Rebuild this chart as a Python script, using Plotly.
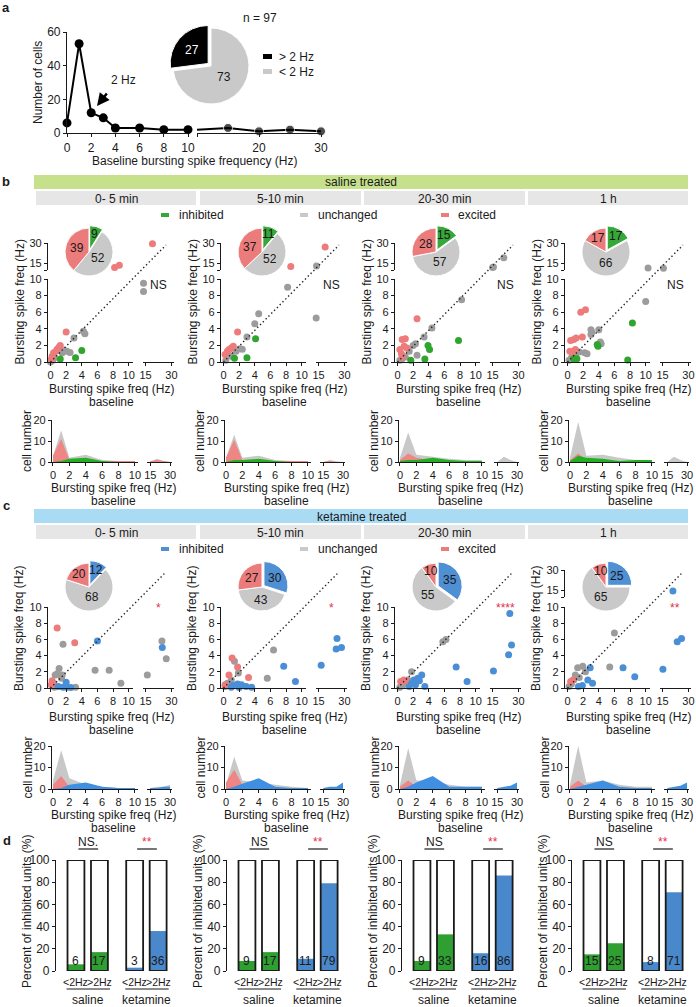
import math
import plotly.graph_objects as go

W, H = 696, 1007
FONT = "Arial, 'Liberation Sans', Helvetica, sans-serif"
INK = "#1a1a1a"

# ======================= DATA =======================
# panel a
a_freq_low = [0, 1, 2, 3, 4, 6, 8, 10]
a_cells_low = [6, 53, 12, 9, 3, 3, 2, 2]
a_freq_high = [10, 15, 20, 25, 30]
a_cells_high = [2, 3, 1, 2, 1]
a_pie_labels = ["&gt; 2 Hz", "&lt; 2 Hz"]
a_pie_values = [73, 27]          # (< 2 Hz, > 2 Hz)
a_n_text = "n = 97"

time_labels = ["0- 5 min", "5-10 min", "20-30 min", "1 h"]
response_labels = ["inhibited", "unchanged", "excited"]

# pies (% inhibited, unchanged, excited)
sal_pie_inh = [9, 11, 15, 17]
sal_pie_unc = [52, 52, 57, 66]
sal_pie_exc = [39, 37, 28, 17]
ket_pie_inh = [12, 30, 35, 25]
ket_pie_unc = [68, 43, 55, 65]
ket_pie_exc = [20, 27, 10, 10]

sal_stat = ["NS", "NS", "NS", "NS"]
ket_stat = ["*", "*", "****", "**"]

# scatter: baseline (x) vs post (y), Hz
sal_inh_x = [[4.0, 3.2, 1.25], [4.1, 3.0, 1.4], [7.8, 3.9, 4.1, 3.5, 1.7],
             [8.3, 3.8, 3.9, 1.2, 0.8, 7.7]]
sal_inh_y = [[1.4, 0.5, 0.35], [2.8, 0.5, 0.45], [2.6, 2.0, 1.5, 0.35, 0.2],
             [4.7, 2.1, 1.9, 0.4, 0.4, 0.25]]
sal_unc_x = [[13.8, 13.8, 3.0, 4.2, 4.4, 2.1, 2.5, 1.5, 0.5, 0.3, 0.0, 1.8],
             [13.8, 8.2, 4.5, 4.0, 3.0, 13.6, 2.1, 2.4, 1.0, 0.3, 1.6],
             [15.0, 15.5, 21.5, 8.2, 4.4, 3.4, 2.5, 2.3, 2.0, 1.0, 0.3, 1.5, 0.6],
             [10.3, 15.5, 10.0, 3.0, 3.1, 3.0, 4.0, 4.2, 4.3, 2.2, 2.5, 1.5, 0.5, 0.2, 1.0]]
sal_unc_y = [[9.5, 8.5, 2.9, 3.7, 3.4, 1.3, 1.15, 1.1, 0.5, 0.2, 0.0, 1.4],
             [13.0, 9.0, 5.8, 4.6, 3.0, 5.3, 1.6, 1.55, 0.7, 0.2, 1.3],
             [11.8, 12.3, 19.0, 7.5, 4.1, 3.0, 0.8, 2.2, 2.0, 0.6, 0.2, 1.3, 0.4],
             [11.5, 11.3, 7.3, 3.9, 3.6, 3.3, 3.9, 2.4, 2.2, 1.1, 1.0, 1.2, 0.5, 0.2, 0.8]]
sal_exc_x = [[19.0, 8.2, 8.8, 2.0, 1.25, 1.1, 0.7, 0.4, 0.2, 0.85, 0.1],
             [18.8, 8.6, 1.8, 1.25, 1.0, 0.5, 0.2, 0.7],
             [2.5, 1.0, 0.6, 0.85, 0.3, 0.5, 0.6, 1.2],
             [1.7, 2.3, 1.1, 0.8, 0.4, 1.0, 0.3, 0.6, 1.9]]
sal_exc_y = [[29.5, 11.8, 13.5, 3.6, 2.0, 1.8, 1.3, 1.1, 0.7, 1.55, 0.3],
             [27.0, 12.5, 3.6, 1.9, 1.7, 1.3, 0.9, 1.5],
             [5.2, 2.8, 2.7, 1.9, 1.5, 1.0, 0.6, 1.7],
             [6.0, 6.3, 2.9, 2.7, 2.6, 1.5, 1.3, 1.1, 3.0]]

ket_inh_x = [[6.0, 24.7, 2.0, 2.1, 1.6, 2.6, 1.0],
             [7.7, 9.2, 16.5, 25.7, 25.2, 28.3, 1.2, 1.8, 2.3, 2.9, 1.0, 2.0, 3.6],
             [7.5, 8.9, 15.5, 24.3, 26.0, 25.0, 2.1, 2.6, 2.8, 3.1, 2.3, 1.5, 3.5, 1.8],
             [21.0, 23.5, 26.0, 15.2, 8.6, 7.1, 2.9, 2.6, 3.2, 1.9, 1.4]]
ket_inh_y = [[5.8, 5.0, 0.7, 0.1, 0.1, 0.05, 0.2],
             [2.7, 0.8, 2.8, 6.1, 4.8, 5.0, 0.3, 0.5, 0.4, 0.2, 0.1, 0.05, 0.1],
             [2.6, 0.8, 2.1, 4.1, 5.3, 9.2, 1.0, 1.2, 0.9, 1.6, 0.4, 0.2, 0.2, 0.6],
             [14.5, 5.7, 6.1, 2.3, 1.4, 2.5, 2.5, 1.0, 0.6, 0.3, 0.2]]
ket_unc_x = [[1.6, 24.5, 27.0, 16.0, 5.7, 7.5, 9.0, 1.1, 0.6, 0.9, 1.5, 1.4, 0.3, 2.1, 3.2, 0.5],
             [1.4, 6.4, 1.9, 5.6, 0.5, 0.2, 1.0],
             [5.8, 6.2, 1.8, 1.3, 0.6, 0.3, 1.0],
             [6.0, 5.4, 1.3, 1.95, 1.0, 0.5, 1.5, 0.8, 0.2, 2.3]]
ket_unc_y = [[5.4, 5.8, 3.6, 1.6, 2.2, 2.2, 0.6, 2.4, 1.6, 1.8, 1.6, 1.2, 0.4, 0.2, 0.1, 0.1],
             [3.3, 4.7, 1.85, 1.2, 0.6, 0.2, 1.0],
             [5.7, 6.0, 2.0, 1.0, 0.3, 0.1, 0.5],
             [6.8, 2.6, 2.5, 2.7, 1.6, 0.5, 1.3, 1.0, 0.2, 2.0]]
ket_exc_x = [[0.85, 3.1, 0.2, 0.1, 0.4],
             [1.1, 1.8, 0.7, 3.2, 0.2],
             [0.4, 0.8, 1.1],
             [0.4, 0.7]]
ket_exc_y = [[7.4, 5.6, 0.9, 0.4, 0.6],
             [3.7, 2.6, 1.6, 1.3, 0.4],
             [0.8, 1.0, 0.9],
             [0.8, 1.0]]

# histograms (cell number vs baseline bin)
hist_bins_low = [0, 1, 2, 4, 6, 8, 10]
hist_bins_high = [15, 20, 25, 30]
sal_hist_unc_low = [[3, 15, 2, 3.5, 1, 0.5, 0.5], [2, 13, 2, 3, 1, 0.5, 0.5],
                    [2, 14, 3.5, 2.5, 1.5, 1, 1], [2, 19, 3, 3.5, 2, 1, 1]]
sal_hist_exc_low = [[3, 11, 1, 0.5, 0.3, 0.5, 0.5], [2, 10.5, 1, 0.5, 0.3, 0.5, 0.5],
                    [1, 4, 2, 0.5, 0, 0, 0], [1, 4, 1, 0, 0, 0, 0]]
sal_hist_inh_low = [[0, 0.5, 1.5, 2, 0.5, 0, 0], [0, 1, 1, 1.5, 0.5, 0, 0],
                    [0.5, 1, 1, 2, 1, 0.5, 0.5], [0.5, 3, 2, 1.5, 0.5, 1, 1]]
sal_hist_unc_high = [[0, 1.5, 0.5, 0], [0, 1, 0.3, 0], [0, 2.5, 1, 0], [0, 2.5, 1, 0]]
sal_hist_exc_high = [[0.5, 1, 0.5, 0], [0, 0.5, 0, 0], [0, 0, 0, 0], [0, 0, 0, 0]]
sal_hist_inh_high = [[0, 0, 0, 0], [0, 0, 0, 0], [0, 0, 0, 0], [0, 0, 0, 0]]
ket_hist_unc_low = [[4, 18, 5, 2, 1, 0.5, 0.5], [2, 15, 4, 3, 2, 1, 0.5],
                    [2, 19, 4, 4, 2, 1, 1], [2, 20, 3, 4, 2, 1, 1]]
ket_hist_exc_low = [[2, 6, 1, 0, 0, 0, 0], [3, 9, 2, 0, 0, 0, 0],
                    [1, 4, 1, 0, 0, 0, 0], [1, 4, 1, 0, 0, 0, 0]]
ket_hist_inh_low = [[0, 0.5, 2, 3, 1, 0.5, 0.5], [0, 1, 2.5, 5, 1, 0.5, 0.5],
                    [0, 1, 3, 6, 1, 1, 1], [0, 1, 2, 4, 1, 0.5, 0.5]]
ket_hist_unc_high = [[0.5, 1, 1, 2], [0, 0, 0, 0], [0, 0, 0, 0], [0, 0, 0, 0]]
ket_hist_exc_high = [[0, 0, 0, 0], [0, 0, 0, 0], [0, 0, 0, 0], [0, 0, 0, 0]]
ket_hist_inh_high = [[0.5, 0.5, 1, 1], [0.5, 1, 1, 3], [0.5, 1, 1.5, 3], [0.5, 1, 1.5, 3]]

# panel d: percent of inhibited units
d_categories = ["&lt;2Hz", "&gt;2Hz", "&lt;2Hz", "&gt;2Hz"]
d_groups = ["saline", "ketamine"]
d_sal_lt2 = [6, 9, 9, 15]
d_sal_gt2 = [17, 17, 33, 25]
d_ket_lt2 = [3, 11, 16, 8]
d_ket_gt2 = [36, 79, 86, 71]
d_sig_sal = ["NS.", "NS", "NS", "NS"]
d_sig_ket = ["**", "**", "**", "**"]

# ======================= STYLE =======================
GREEN_PIE, GREEN_PT, GREEN_HIST, GREEN_BAR = "#36a839", "#2fa52f", "#22b022", "#2e9f30"
BLUE_PIE, BLUE_PT, BLUE_HIST, BLUE_BAR = "#4f8fd3", "#4a8fd6", "#3f8fe3", "#4a88cc"
RED_PIE, RED_PT, RED_HIST = "#ec7c7c", "#ee7b7b", "#ef8585"
GRAY_PIE, GRAY_PT, GRAY_HIST = "#c9c9c9", "#9c9c9c", "#c8c8c8"
STAR_RED = "#e0304a"

fig = go.Figure()
layout = {}
shapes = []
annots = []
counts = {"x": 0, "y": 0}


def X(px):
    return px / W


def Y(py):
    return 1 - py / H


def axis(letter, dom, rng, size=11, **kw):
    counts[letter] += 1
    n = counts[letter]
    suffix = "" if n == 1 else str(n)
    spec = dict(domain=dom, range=rng, showgrid=False, zeroline=False, showline=True,
                linecolor=INK, linewidth=1.2, ticks="outside", ticklen=3, tickwidth=1.2,
                tickcolor=INK, tickfont=dict(family=FONT, size=size, color=INK),
                automargin=False, fixedrange=True)
    spec.update(kw)
    layout[letter + "axis" + suffix] = spec
    return letter + suffix


def link(xr, yr, y_on_x=True):
    layout["xaxis" + xr[1:]]["anchor"] = yr
    if y_on_x:
        layout["yaxis" + yr[1:]]["anchor"] = xr


def text(s, px, py, size=12, color=INK, xanchor="center", angle=0, bold=False):
    if bold:
        s = "<b>" + s + "</b>"
    annots.append(dict(text=s, x=X(px), y=Y(py), xref="paper", yref="paper", showarrow=False,
                       xanchor=xanchor, yanchor="middle", textangle=angle,
                       font=dict(family=FONT, size=size, color=color)))


def rect(x0, y0, x1, y1, color):
    shapes.append(dict(type="rect", xref="paper", yref="paper", x0=X(x0), x1=X(x1),
                       y0=Y(y1), y1=Y(y0), fillcolor=color, line=dict(width=0), layer="below"))


def add_pie(values, colors, pull_idx, cx, cy, R, tcolors, size=12):
    pulls = [0.1 if i == pull_idx else 0 for i in range(len(values))]
    half = R * 1.1
    fig.add_trace(go.Pie(values=values, sort=False, direction="clockwise", rotation=0,
                         pull=pulls, textinfo="none", hoverinfo="skip", showlegend=False,
                         marker=dict(colors=colors, line=dict(color="white", width=1)),
                         domain=dict(x=[X(cx - half), X(cx + half)], y=[Y(cy + half), Y(cy - half)])))
    tot = float(sum(values))
    cum = 0.0
    for i, v in enumerate(values):
        f = v / tot
        ang = (cum + f / 2) * 2 * math.pi
        cum += f
        rf = 0.45 if f > 0.5 else (0.55 if f > 0.2 else 0.68)
        r = (rf + pulls[i]) * R
        text(str(v), cx + r * math.sin(ang), cy - r * math.cos(ang), size=size, color=tcolors[i])


# ======================= PANEL a =======================
text("a", 6, 8, size=13, bold=True)
ya = axis("y", [Y(133), Y(32)], [0, 60], size=12, tickvals=[0, 20, 40, 60])
xa1 = axis("x", [X(67), X(188)], [0, 10], size=12, tickvals=[0, 2, 4, 6, 8, 10])
xa2 = axis("x", [X(197), X(321)], [10, 30], size=12, tickvals=[10, 20, 30], ticktext=["", "20", "30"])
link(xa1, ya)
link(xa2, ya, y_on_x=False)
fig.add_trace(go.Scatter(x=a_freq_low, y=a_cells_low, xaxis=xa1, yaxis=ya, mode="lines+markers",
                         line=dict(color="black", width=2), marker=dict(color="black", size=9),
                         cliponaxis=False, hoverinfo="skip", showlegend=False))
fig.add_trace(go.Scatter(x=a_freq_high, y=a_cells_high, xaxis=xa2, yaxis=ya, mode="lines+markers",
                         line=dict(color="black", width=2),
                         marker=dict(color="black", size=[0 if f == a_freq_high[0] else 9 for f in a_freq_high]),
                         cliponaxis=False, hoverinfo="skip", showlegend=False))
text("Number of cells", 38, 83, size=12, angle=-90)
text("Baseline bursting spike frequency (Hz)", 194, 161, size=12)
annots.append(dict(x=X(97), y=Y(106), xref="paper", yref="paper", ax=11, ay=-14, text="",
                   showarrow=True, arrowhead=2, arrowsize=1, arrowwidth=2.5, arrowcolor="black"))
text("2 Hz", 123, 80, size=12)
add_pie(a_pie_values, [GRAY_PIE, "#000000"], 1, 211, 66, 38, [INK, "white"], size=12)
text(a_n_text, 260, 18, size=12)
rect(263, 54, 272, 59, "#000000")
rect(263, 69, 272, 74, GRAY_PIE)
text(a_pie_labels[0], 277, 57, size=12, xanchor="left")
text(a_pie_labels[1], 277, 72, size=12, xanchor="left")

# ======================= rows b & c =======================
OX = [0, 173, 347, 517]
TIME_BOXES = [(36, 196), (200, 361), (364, 525), (528, 688)]


def header(top, color, title, inh_color):
    rect(34, top, 688, top + 14, color)
    text(title, 361, top + 7.5, size=12)
    for (x0, x1), lab in zip(TIME_BOXES, time_labels):
        rect(x0, top + 16, x1, top + 30, "#e6e6e6")
        text(lab, (x0 + x1) / 2, top + 23.5, size=12)
    ly = top + 40
    for (dx, tx), col, lab in zip([(161, 177), (300, 316), (441, 456)],
                                  [inh_color, GRAY_PIE, RED_PIE], response_labels):
        rect(dx, ly - 2, dx + 8, ly + 2, col)
        text(lab, tx, ly, size=12, xanchor="left")


def scatter_panel(ox, g, inh, unc, exc, pie_vals, pie_cols, stat, stat_col, inh_col):
    x1 = axis("x", [X(48 + ox), X(133 + ox)], [-0.32, 10.55], tickvals=[0, 2, 4, 6, 8, 10])
    x2 = axis("x", [X(143 + ox), X(174 + ox)], [13.5, 31.5], tickvals=[15, 30])
    yl = axis("y", [Y(g["y0"]), Y(g["y10"])], [0, 10], tickvals=[0, 2, 4, 6, 8, 10])
    yu = axis("y", [Y(g["ub"]), Y(g["ut"])], [10, 30], tickvals=[10, 15, 30], ticktext=["", "15", "30"])
    link(x1, yl)
    link(x2, yl, y_on_x=False)
    layout["yaxis" + yu[1:]]["anchor"] = x1
    # identity (dotted) line
    shapes.append(dict(type="line", xref="paper", yref="paper", x0=X(50.5 + ox), y0=Y(g["y0"]),
                       x1=X(166 + ox), y1=Y(g["ut"] + 2),
                       line=dict(color="#222", width=1.4, dash="1.4px,2.6px")))
    for (xs, ys), col in zip([unc, exc, inh], [GRAY_PT, RED_PT, inh_col]):
        for xlow, xr in ((True, x1), (False, x2)):
            for ylow, yr in ((True, yl), (False, yu)):
                pts = [(a, b) for a, b in zip(xs, ys) if (a <= 10.5) == xlow and (b <= 10.5) == ylow]
                if pts:
                    fig.add_trace(go.Scatter(x=[p[0] for p in pts], y=[p[1] for p in pts], xaxis=xr,
                                             yaxis=yr, mode="markers", cliponaxis=False,
                                             marker=dict(color=col, size=7), hoverinfo="skip",
                                             showlegend=False))
    add_pie(pie_vals, pie_cols, 0, ox + 89, g["pie_cy"], 24, [INK, INK, INK], size=12)
    text(stat, ox + 158, g["ns_y"], size=12, color=stat_col)
    text("Bursting spike freq (Hz)", ox + 19, (g["ut"] + g["y0"]) / 2, size=12, angle=-90)
    text("Bursting spike freq (Hz)", ox + 111, g["xt_y"], size=12)
    text("baseline", ox + 111, g["xt_y"] + 13, size=12)


def hist_panel(ox, hg, series_low, series_high, cols):
    x1 = axis("x", [X(52 + ox), X(138 + ox)], [-0.12, 10.37], tickvals=[0, 2, 4, 6, 8, 10])
    x2 = axis("x", [X(147 + ox), X(172 + ox)], [12.5, 31.5], tickvals=[15, 30])
    y = axis("y", [Y(hg["y0"]), Y(hg["y20"])], [0, 20], tickvals=[0, 10, 20])
    link(x1, y)
    link(x2, y, y_on_x=False)
    for lo, hi, col in zip(series_low, series_high, cols):
        fig.add_trace(go.Scatter(x=hist_bins_low, y=lo, xaxis=x1, yaxis=y, mode="lines", fill="tozeroy",
                                 fillcolor=col, line=dict(width=0, color=col), hoverinfo="skip",
                                 showlegend=False))
        fig.add_trace(go.Scatter(x=hist_bins_high, y=hi, xaxis=x2, yaxis=y, mode="lines", fill="tozeroy",
                                 fillcolor=col, line=dict(width=0, color=col), hoverinfo="skip",
                                 showlegend=False))
    text("cell number", ox + 27, (hg["y0"] + hg["y20"]) / 2, size=12, angle=-90)
    text("Bursting spike freq (Hz)", ox + 113, hg["xt_y"], size=12)
    text("baseline", ox + 113, hg["xt_y"] + 13, size=12)


geo_b = dict(ut=243, ub=270, y10=279, y0=362, ns_y=285, xt_y=389, pie_cy=252)
geo_c = dict(ut=570, ub=597, y10=607, y0=688, ns_y=608, xt_y=717, pie_cy=587)
hgeo_b = dict(y20=420, y0=462, xt_y=488)
hgeo_c = dict(y20=746, y0=789, xt_y=815)

text("b", 6, 182, size=13, bold=True)
header(175, "#c6e08c", "saline treated", GREEN_PIE)
text("c", 6, 505, size=13, bold=True)
header(509, "#a9dcf4", "ketamine treated", BLUE_PIE)

for k in range(4):
    ox = OX[k]
    scatter_panel(ox, geo_b, (sal_inh_x[k], sal_inh_y[k]), (sal_unc_x[k], sal_unc_y[k]),
                  (sal_exc_x[k], sal_exc_y[k]), [sal_pie_inh[k], sal_pie_unc[k], sal_pie_exc[k]],
                  [GREEN_PIE, GRAY_PIE, RED_PIE], sal_stat[k], INK, GREEN_PT)
    hist_panel(ox, hgeo_b, [sal_hist_unc_low[k], sal_hist_exc_low[k], sal_hist_inh_low[k]],
               [sal_hist_unc_high[k], sal_hist_exc_high[k], sal_hist_inh_high[k]],
               [GRAY_HIST, RED_HIST, GREEN_HIST])
    scatter_panel(ox, geo_c, (ket_inh_x[k], ket_inh_y[k]), (ket_unc_x[k], ket_unc_y[k]),
                  (ket_exc_x[k], ket_exc_y[k]), [ket_pie_inh[k], ket_pie_unc[k], ket_pie_exc[k]],
                  [BLUE_PIE, GRAY_PIE, RED_PIE], ket_stat[k], STAR_RED, BLUE_PT)
    hist_panel(ox, hgeo_c, [ket_hist_unc_low[k], ket_hist_exc_low[k], ket_hist_inh_low[k]],
               [ket_hist_unc_high[k], ket_hist_exc_high[k], ket_hist_inh_high[k]],
               [GRAY_HIST, RED_HIST, BLUE_HIST])

# ======================= PANEL d =======================
text("d", 7, 840, size=13, bold=True)
OXD = [0, 171, 346, 516]
positions = [1, 2, 3.5, 4.5]
for k in range(4):
    ox = OXD[k]
    xb = axis("x", [X(56 + ox), X(172 + ox)], [0.15, 5.09], visible=False)
    yb = axis("y", [Y(971), Y(860)], [0, 100], size=12, tickvals=[0, 20, 40, 60, 80, 100])
    link(xb, yb)
    vals = [d_sal_lt2[k], d_sal_gt2[k], d_ket_lt2[k], d_ket_gt2[k]]
    fig.add_trace(go.Bar(x=positions, y=vals, width=0.72, xaxis=xb, yaxis=yb,
                         marker=dict(color=[GREEN_BAR, GREEN_BAR, BLUE_BAR, BLUE_BAR], line=dict(width=0)),
                         hoverinfo="skip", showlegend=False))
    fig.add_trace(go.Bar(x=positions, y=[100] * 4, width=0.72, xaxis=xb, yaxis=yb,
                         marker=dict(color="rgba(0,0,0,0)", line=dict(color=INK, width=1.8)),
                         hoverinfo="skip", showlegend=False))
    for p, v in zip(positions, vals):
        annots.append(dict(text=str(v), x=p, y=0, xref=xb, yref=yb, yanchor="bottom", yshift=1,
                           showarrow=False, font=dict(family=FONT, size=12, color=INK)))
    for p, lab in zip(positions, d_categories):
        annots.append(dict(text=lab, x=p, y=Y(982), xref=xb, yref="paper", showarrow=False,
                           yanchor="middle", font=dict(family=FONT, size=10.5, color=INK)))
    for (a0, a1), grp, sig, scol in zip([(0.6, 2.45), (3.1, 4.95)], d_groups,
                                        [d_sig_sal[k], d_sig_ket[k]], [INK, STAR_RED]):
        shapes.append(dict(type="line", xref=xb, yref="paper", x0=a0, x1=a1, y0=Y(989), y1=Y(989),
                           line=dict(color=INK, width=1.2)))
        annots.append(dict(text=grp, x=(a0 + a1) / 2, y=Y(1000), xref=xb, yref="paper", showarrow=False,
                           yanchor="middle", font=dict(family=FONT, size=12, color=INK)))
        c0 = (a0 + a1) / 2 - 0.42
        c1 = (a0 + a1) / 2 + 0.42
        shapes.append(dict(type="line", xref=xb, yref="paper", x0=c0, x1=c1, y0=Y(849), y1=Y(849),
                           line=dict(color=INK, width=1.2)))
        annots.append(dict(text=sig, x=(a0 + a1) / 2, y=Y(842), xref=xb, yref="paper", showarrow=False,
                           yanchor="middle", font=dict(family=FONT, size=12, color=scol)))
    text("Percent of inhibited units (%)", ox + 27, 912, size=12, angle=-90)

layout.update(dict(width=W, height=H, margin=dict(l=0, r=0, t=0, b=0), paper_bgcolor="white",
                   plot_bgcolor="white", showlegend=False, barmode="overlay", shapes=shapes,
                   annotations=annots, font=dict(family=FONT, color=INK)))
fig.update_layout(**layout)
fig.write_html("out.html", config={"displayModeBar": False},
               post_script="document.body.style.margin='0';")
